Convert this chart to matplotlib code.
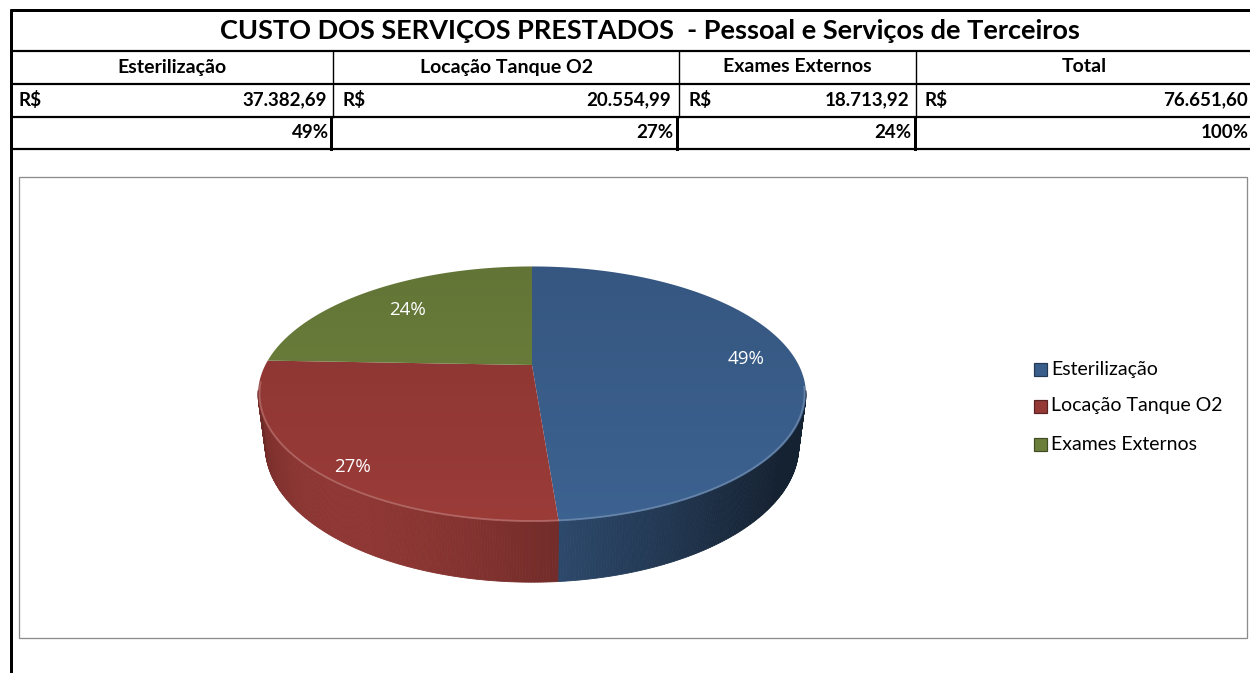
import numpy as np
import matplotlib
matplotlib.use("Agg")
import matplotlib.pyplot as plt
from matplotlib.patches import Polygon, Rectangle

# dados da planilha
titulo = "CUSTO DOS SERVIÇOS PRESTADOS  - Pessoal e Serviços de Terceiros"
categorias = ["Esterilização", "Locação Tanque O2", "Exames Externos"]
valores = [37382.69, 20554.99, 18713.92]
cores_topo = ["#3a5e8b", "#943936", "#6b7f3b"]

total = sum(valores)
percentuais = [v / total * 100 for v in valores]


def brl(v):
    s = f"{v:,.2f}"
    return s.replace(",", "X").replace(".", ",").replace("X", ".")


plt.rcParams['font.family'] = ['Lato', 'DejaVu Sans']

W, H = 1250, 673
fig = plt.figure(figsize=(W / 100, H / 100), dpi=100)
ax = fig.add_axes([0, 0, 1, 1])
ax.set_xlim(0, W)
ax.set_ylim(H, 0)
ax.axis('off')

PX = 72 / 100  # pixels -> points

# ---- tabela ----
ax.plot([10, W], [10, 10], color='black', lw=3 * PX, solid_capstyle='butt')
ax.plot([11, 11], [9, H], color='black', lw=3 * PX, solid_capstyle='butt')
for y in [51, 84, 117, 149]:
    ax.plot([11, W], [y, y], color='black', lw=2.2 * PX, solid_capstyle='butt')
col_x = [333, 679, 916]
for x in col_x:
    ax.plot([x, x], [51, 117], color='black', lw=1.4 * PX)
for x in [331, 677, 915]:
    ax.plot([x, x], [117, 149], color='black', lw=3 * PX)

ax.text(650, 31, titulo, ha='center', va='center', fontsize=19.5, fontweight='bold')

bordas = [11] + col_x + [1252]
cabecalhos = categorias + ["Total"]
montantes = valores + [total]
pcts = [f"{p:.0f}%" for p in percentuais] + ["100%"]
rs_x = [18, 343, 688, 925]
val_right = [327, 671, 909, 1248]
pct_right = [329, 673, 911, 1249]
for i in range(4):
    cx = (bordas[i] + bordas[i + 1]) / 2
    ax.text(cx, 67, cabecalhos[i], ha='center', va='center', fontsize=14, fontweight='bold')
    ax.text(rs_x[i], 100, "R$", ha='left', va='center', fontsize=13.5, fontweight='bold')
    ax.text(val_right[i], 100, brl(montantes[i]), ha='right', va='center', fontsize=13.5, fontweight='bold')
    ax.text(pct_right[i], 133, pcts[i], ha='right', va='center', fontsize=13.5, fontweight='bold')

# ---- area do grafico ----
ax.add_patch(Rectangle((19, 177), 1228, 461, facecolor='white', edgecolor='#8c8c8c', lw=1.3 * PX))

# ---- pizza 3D (projecao em perspectiva) ----
CX, CY = 532, 365
F, DIST = 1040, 3.9
ALPHA = np.radians(27)
SA, CA = np.sin(ALPHA), np.cos(ALPHA)
ALT = 0.219


def proj(theta, r=1.0, z=0.0):
    t = np.radians(theta)
    x = r * np.sin(t)
    y = r * np.cos(t)
    depth = DIST + y * CA - z * SA
    return CX + F * x / depth, CY - F * (y * SA + z * CA) / depth


def shade(color, f):
    c = np.array(matplotlib.colors.to_rgb(color))
    return tuple(np.clip(c * f, 0, 1))


angs = np.concatenate([[0], np.cumsum(percentuais) / 100 * 360])

# laterais
for i, cor in enumerate(cores_topo):
    a0, a1 = angs[i], angs[i + 1]
    n = max(int((a1 - a0) * 2), 2)
    th = np.linspace(a0, a1, n + 1)
    for t1, t2 in zip(th[:-1], th[1:]):
        tm = (t1 + t2) / 2
        if np.cos(np.radians(tm)) > -0.2:
            continue
        pts = [proj(t1, 1, 0), proj(t2, 1, 0), proj(t2, 1, -ALT), proj(t1, 1, -ALT)]
        f = 0.36 + 0.6 * max(0.0, np.cos(np.radians(tm - 215))) ** 1.5
        c = shade(cor, f)
        ax.add_patch(Polygon(pts, closed=True, facecolor=c, edgecolor=c, lw=0.6))

# topo
for i, cor in enumerate(cores_topo):
    a0, a1 = angs[i], angs[i + 1]
    th = np.linspace(a0, a1, 200)
    pts = [proj(0, 0, 0)] + [proj(t) for t in th]
    poly = Polygon(pts, closed=True, facecolor='none', edgecolor='none', transform=ax.transData)
    ax.add_patch(poly)
    grad = np.linspace(0.92, 1.05, 100)
    img = np.array([[shade(cor, g)] for g in grad])
    im = ax.imshow(img, extent=(250, 815, 530, 260), aspect='auto', interpolation='bicubic', zorder=2)
    im.set_clip_path(poly)

# brilho da borda frontal
th = np.linspace(100, 262, 200)
rim = np.array([proj(t, 0.995) for t in th])
ax.plot(rim[:, 0], rim[:, 1], color='white', alpha=0.22, lw=1.2, zorder=3)

# rotulos (ajuste fino em pixels, como o Excel posiciona)
ajustes = [(8, -2), (-14, 24), (3, 5)]
for i in range(3):
    mid = (angs[i] + angs[i + 1]) / 2
    lx, ly = proj(mid, 0.78)
    dx, dy = ajustes[i]
    ax.text(lx + dx, ly + dy, f"{percentuais[i]:.0f}%", ha='center', va='center',
            color='white', fontsize=13.5, family=['Open Sans', 'DejaVu Sans'], zorder=4)

# legenda
leg_y = [369, 406, 444]
for i, cat in enumerate(categorias):
    ax.add_patch(Rectangle((1034, leg_y[i] - 6.5), 13, 13, facecolor=cores_topo[i],
                           edgecolor=shade(cores_topo[i], 0.6), lw=1.2 * PX))
    ax.text(1051, leg_y[i], cat, ha='left', va='center', fontsize=14)

fig.savefig("out.png", dpi=100)
